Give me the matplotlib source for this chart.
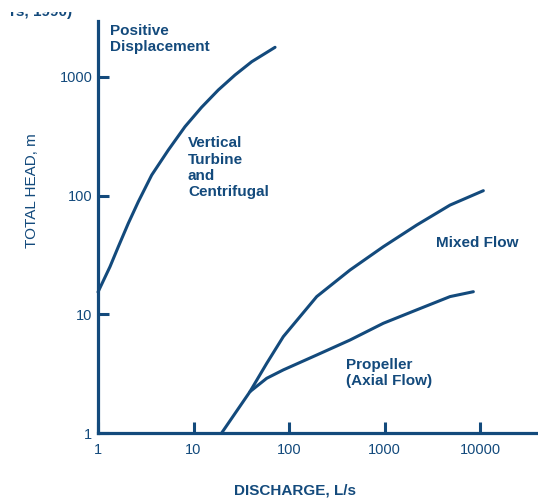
import matplotlib
matplotlib.use("Agg")
import matplotlib.pyplot as plt
from matplotlib.patches import Rectangle
from matplotlib.ticker import FixedLocator, FixedFormatter, NullLocator

plt.rcParams['font.family'] = ['Liberation Sans', 'DejaVu Sans']

NAVY = '#134a7c'

# Operating envelopes: discharge (L/s) vs total head (m)
turbine_q = [1.0, 1.336, 1.632, 2.076, 2.642, 3.65, 5.447, 8.147, 12.13, 18.18, 27.2, 40.7, 71.4]
turbine_h = [15.4, 25.2, 37.1, 58.4, 88.8, 149, 242, 381, 554, 776, 1038, 1343, 1776]

mixed_q = [19.7, 39.0, 58.4, 87.1, 195, 435, 971, 2174, 4852, 10830]
mixed_h = [1.0, 2.23, 3.86, 6.48, 14.1, 23.6, 37.1, 56.5, 83.2, 110]

propeller_q = [39.0, 58.4, 87.1, 195, 435, 971, 2174, 4852, 8511]
propeller_h = [2.23, 2.89, 3.40, 4.54, 6.07, 8.40, 10.9, 14.1, 15.5]

x_ticks = [1, 10, 100, 1000, 10000]
x_labels = ['1', '10', '100', '1000', '10000']
y_ticks = [1, 10, 100, 1000]
y_labels = ['1', '10', '100', '1000']

fig = plt.figure(figsize=(5.38, 4.98), dpi=100)
ax = fig.add_axes([98 / 538, 65 / 498, 440 / 538, 412 / 498])
ax.set_xscale('log')
ax.set_yscale('log')
ax.set_xlim(1, 10 ** 4.607)
ax.set_ylim(1, 10 ** 3.471)

line_kw = dict(color=NAVY, lw=2.2, solid_capstyle='round', solid_joinstyle='round', clip_on=False)
ax.plot(turbine_q, turbine_h, **line_kw)
ax.plot(mixed_q, mixed_h, **line_kw)
ax.plot(propeller_q, propeller_h, **line_kw)

for side in ('top', 'right'):
    ax.spines[side].set_visible(False)
for side in ('left', 'bottom'):
    ax.spines[side].set_color(NAVY)
    ax.spines[side].set_linewidth(2.3)

ax.xaxis.set_major_locator(FixedLocator(x_ticks))
ax.xaxis.set_major_formatter(FixedFormatter(x_labels))
ax.yaxis.set_major_locator(FixedLocator(y_ticks))
ax.yaxis.set_major_formatter(FixedFormatter(y_labels))
ax.xaxis.set_minor_locator(NullLocator())
ax.yaxis.set_minor_locator(NullLocator())
ax.tick_params(direction='in', length=8, width=2.2, color=NAVY,
               labelcolor=NAVY, labelsize=10.5)
ax.tick_params(axis='x', pad=7)
ax.tick_params(axis='y', pad=4)

ax.set_xlabel('DISCHARGE, L/s', fontsize=11, fontweight='bold', color=NAVY, va='center')
ax.xaxis.set_label_coords((295 - 98) / 440, (433 - 490) / 412)
ax.set_ylabel('TOTAL HEAD, m', fontsize=11, color=NAVY, va='center')
ax.yaxis.set_label_coords((32 - 98) / 440, (433 - 191) / 412)

txt_kw = dict(transform=ax.transAxes, fontsize=11, fontweight='bold', color=NAVY,
              ha='left', linespacing=1.2)
ax.text(0.0273, 0.992, 'Positive\nDisplacement', va='top', **txt_kw)
ax.text(0.2045, 0.720, 'Vertical\nTurbine\nand\nCentrifugal', va='top', **txt_kw)
ax.text(0.768, 0.461, 'Mixed Flow', va='center', **txt_kw)
ax.text(0.5636, 0.183, 'Propeller\n(Axial Flow)', va='top', **txt_kw)

# Source note running off the top edge: only the lower strip of the glyphs shows
fig.text(10 / 538, 1 - 16 / 498, 'rs, 1990)', fontsize=11, fontweight='bold',
         color=NAVY, ha='left', va='baseline', zorder=2)
fig.add_artist(Rectangle((0, 1 - 12 / 498), 0.3, 12 / 498 + 0.01, transform=fig.transFigure,
                         facecolor='white', edgecolor='none', zorder=10))

fig.savefig('out.png', dpi=100)
